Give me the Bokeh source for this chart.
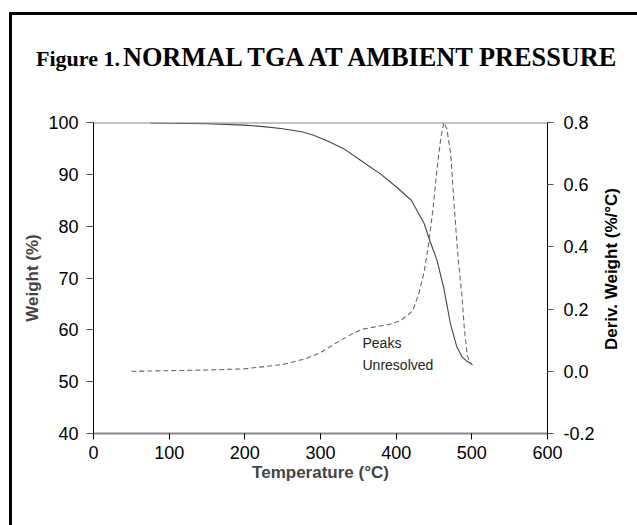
from bokeh.plotting import figure
from bokeh.layouts import column, row
from bokeh.models import (LinearAxis, Range1d, FixedTicker, PrintfTickFormatter,
                          Span, Label, Div, Spacer)
from bokeh.embed import file_html
from bokeh.resources import INLINE

# ---- data ----
temp_w = [75, 100, 150, 200, 225, 250, 275, 290, 310, 330, 350, 380, 400, 420,
          437, 445, 454, 463, 472, 480, 487, 493, 500]
weight = [99.9, 99.85, 99.75, 99.5, 99.2, 98.8, 98.2, 97.6, 96.4, 95.0, 93.0, 90.0,
          87.6, 85.0, 80.5, 77.0, 73.4, 68.0, 61.0, 56.8, 54.8, 54.0, 53.4]

temp_d = [50, 100, 150, 200, 250, 280, 300, 320, 340, 355, 370, 390, 405, 415, 422,
          430, 437, 443, 449, 454, 459, 463, 467, 472, 477, 482, 487, 490, 494, 497, 501]
deriv = [0.0, 0.002, 0.004, 0.008, 0.022, 0.04, 0.06, 0.09, 0.118, 0.135, 0.142, 0.15,
         0.162, 0.18, 0.195, 0.25, 0.32, 0.41, 0.53, 0.65, 0.75, 0.80, 0.78, 0.70, 0.52,
         0.36, 0.24, 0.14, 0.05, 0.03, 0.02]

x_ticks = [0, 100, 200, 300, 400, 500, 600]
w_ticks = [40, 50, 60, 70, 80, 90, 100]
d_ticks = [-0.2, 0.0, 0.2, 0.4, 0.6, 0.8]

title_small = "Figure 1."
title_big = "NORMAL TGA AT AMBIENT PRESSURE"
right_title = "Deriv. Weight (%/°C)"
note_lines = ["Peaks", "Unresolved"]

SANS = "Liberation Sans"
SERIF = "Liberation Serif"

title_div = Div(
    text=(f"<div style=\"font-family:'{SERIF}';font-weight:bold;line-height:1;"
          f"white-space:nowrap;color:black\">"
          f"<span style=\"font-size:22px\">{title_small}</span> "
          f"<span style=\"font-size:26.3px\">{title_big}</span></div>"),
    width=622, height=70,
    styles={"padding-top": "25px", "padding-left": "19px", "box-sizing": "border-box"})

p = figure(width=590, height=426, x_range=Range1d(0, 600), y_range=Range1d(40, 100),
           output_backend="svg", toolbar_location=None,
           min_border_left=81, min_border_right=55, min_border_top=27,
           min_border_bottom=88)
p.extra_y_ranges = {"deriv": Range1d(-0.2, 0.8)}
p.grid.visible = False
p.outline_line_color = None
p.background_fill_color = "white"
p.border_fill_color = "white"

# left axis
ya = p.yaxis[0]
ya.ticker = FixedTicker(ticks=w_ticks)
ya.axis_line_color = "black"
ya.major_tick_line_color = "#555555"
ya.major_tick_out = 7
ya.major_tick_in = 0
ya.minor_tick_line_color = None
ya.major_label_standoff = 8
ya.major_label_text_font = SANS
ya.major_label_text_font_size = "18px"
ya.major_label_text_color = "black"
ya.axis_label = "Weight (%)"
ya.axis_label_text_font = SANS
ya.axis_label_text_font_style = "bold"
ya.axis_label_text_font_size = "17px"
ya.axis_label_standoff = 3

# bottom axis
xa = p.xaxis[0]
xa.ticker = FixedTicker(ticks=x_ticks)
xa.axis_line_color = "#888888"
xa.axis_line_width = 2
xa.major_tick_line_color = "black"
xa.major_tick_out = 6
xa.major_tick_in = 0
xa.minor_tick_line_color = None
xa.major_label_standoff = 6
xa.major_label_text_font = SANS
xa.major_label_text_font_size = "18px"
xa.major_label_text_color = "black"
xa.axis_label = "Temperature (°C)"
xa.axis_label_text_font = SANS
xa.axis_label_text_font_style = "bold"
xa.axis_label_text_font_size = "17px"
xa.axis_label_standoff = 1

# right axis (its title is drawn beside the figure, reading upward)
ra = LinearAxis(y_range_name="deriv", ticker=FixedTicker(ticks=d_ticks),
                formatter=PrintfTickFormatter(format="%.1f"))
ra.axis_line_color = "black"
ra.major_tick_line_color = "#555555"
ra.major_tick_out = 6
ra.major_tick_in = 0
ra.minor_tick_line_color = None
ra.major_label_standoff = 10
ra.major_label_text_font = SANS
ra.major_label_text_font_size = "18px"
ra.major_label_text_color = "black"
p.add_layout(ra, "right")

right_div = Div(
    text=(f"<div style=\"writing-mode:vertical-rl;transform:rotate(180deg);"
          f"position:relative;left:-4px;"
          f"font-family:'{SANS}';font-weight:bold;font-size:17px;line-height:1;"
          f"white-space:nowrap;color:black\">{right_title}</div>"),
    width=32, height=426,
    styles={"padding-top": "88px", "padding-left": "0px", "box-sizing": "border-box"})

# top frame line
p.add_layout(Span(location=100, dimension="width", line_color="#888888", line_width=2))

# curves
p.line(temp_w, weight, line_color="#444444", line_width=1.1)
p.line(temp_d, deriv, y_range_name="deriv", line_color="#666666", line_width=1.1,
       line_dash="5 3")

# annotation text
p.add_layout(Label(x=355.5, y=57.4, text=note_lines[0], text_font=SANS,
                   text_font_size="14px", text_baseline="middle", text_color="#222222"))
p.add_layout(Label(x=355.5, y=53.3, text=note_lines[1], text_font=SANS,
                   text_font_size="14px", text_baseline="middle", text_color="#222222"))

inner = column(title_div, row(p, right_div, spacing=0), spacing=0,
               styles={"box-shadow": "-3px -3px 0 0 black"})
layout = column(Spacer(width=12, height=15),
                row(Spacer(width=12, height=496), inner, spacing=0),
                spacing=0)

open("out.html", "w").write(file_html(layout, INLINE))
